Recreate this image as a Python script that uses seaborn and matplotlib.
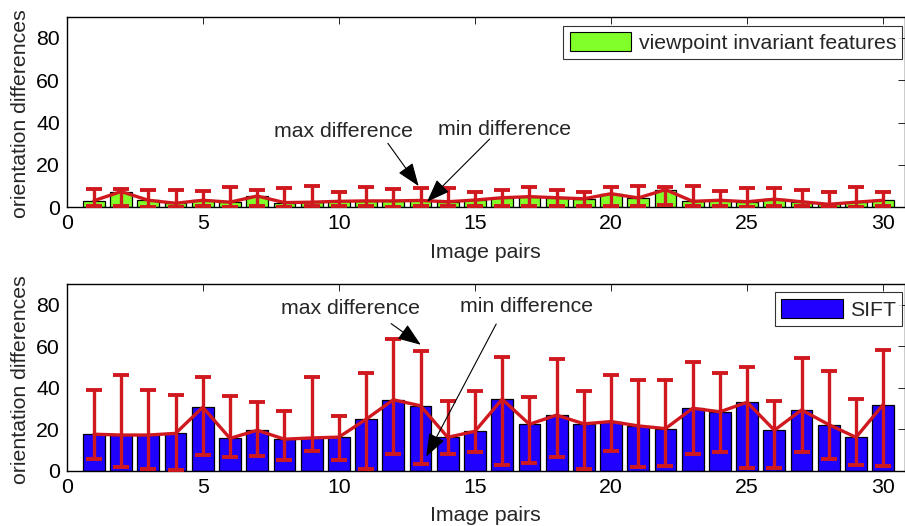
import numpy as np
import pandas as pd
import matplotlib
matplotlib.use("Agg")
import matplotlib.pyplot as plt
from matplotlib.patches import Patch
import seaborn as sns

# ---- data ----
pairs = list(range(1, 31))

vif_mean = [3.1, 7.4, 3.3, 1.9, 3.3, 2.4, 5.3, 2.2, 2.4, 2.8,
            3.0, 3.0, 3.2, 2.6, 3.4, 4.5, 5.0, 4.5, 4.0, 6.4,
            4.4, 8.3, 2.8, 3.3, 2.6, 3.8, 2.6, 1.4, 2.4, 3.3]
vif_max = [8.6, 8.6, 8.2, 8.2, 7.7, 9.7, 8.2, 9.3, 10.2, 7.2,
           9.4, 8.6, 9.0, 9.0, 7.1, 8.2, 9.7, 8.2, 7.4, 9.7,
           10.2, 9.7, 10.2, 7.8, 9.0, 9.0, 8.2, 7.1, 9.7, 7.4]
vif_min = [0.4, 0.6, 0.3, 0.2, 0.5, 0.3, 0.6, 0.3, 0.4, 0.5,
           0.4, 0.3, 0.5, 0.4, 0.6, 0.5, 0.7, 0.4, 0.5, 0.8,
           0.6, 0.9, 0.4, 0.5, 0.3, 0.5, 0.4, 0.2, 0.3, 0.5]

sift_mean = [17.6, 17.2, 17.2, 18.0, 30.6, 15.6, 19.5, 15.2, 15.8, 16.2,
             24.8, 34.2, 31.3, 16.1, 19.0, 34.5, 22.4, 26.8, 22.6, 23.7,
             21.6, 20.3, 30.1, 28.4, 33.0, 19.5, 29.3, 22.2, 16.1, 31.9]
sift_max = [39.1, 46.3, 39.0, 36.7, 45.1, 36.1, 32.9, 28.8, 45.4, 26.6,
            47.0, 63.6, 57.5, 33.7, 38.5, 54.6, 35.7, 53.8, 38.2, 45.9,
            43.8, 43.5, 52.2, 47.3, 50.1, 33.8, 54.3, 48.2, 34.5, 58.3]
sift_min = [5.6, 1.9, 1.0, 0.2, 7.4, 6.8, 7.1, 5.2, 9.4, 5.2,
            0.7, 8.1, 3.2, 8.1, 8.9, 2.8, 3.6, 6.8, 0.8, 9.7,
            1.6, 2.3, 8.1, 9.2, 1.5, 1.5, 9.2, 5.5, 2.6, 2.3]

xticks = [0, 5, 10, 15, 20, 25, 30]
yticks = [0, 20, 40, 60, 80]
labels = ["viewpoint invariant features", "SIFT"]
annot_text = ["max difference", "min difference"]

# ---- style ----
sns.set_style("white")
plt.rcParams["font.family"] = ["Liberation Sans", "DejaVu Sans"]
plt.rcParams["xtick.direction"] = "in"
plt.rcParams["ytick.direction"] = "in"

RED = "#d0191f"
GREEN = "#80ff28"
BLUE = "#2000ff"
FS = 15.3

fig = plt.figure(figsize=(9.05, 5.26), dpi=100)
ax1 = fig.add_axes([0.0737, 0.606, 0.9263, 0.3624])
ax2 = fig.add_axes([0.0737, 0.1051, 0.9263, 0.355])


def panel(ax, mean, lo, hi, color, label, ann, leg_y):
    df = pd.DataFrame({"pair": pairs, "val": mean})
    sns.barplot(data=df, x="pair", y="val", native_scale=True, width=0.8,
                color=color, edgecolor="black", linewidth=0.9,
                saturation=1, errorbar=None, ax=ax, zorder=2)
    m = np.array(mean)
    yerr = [m - np.array(lo), np.array(hi) - m]
    ax.errorbar(pairs, mean, yerr=yerr, fmt="none", ecolor=RED,
                elinewidth=2.4, capsize=6, capthick=2.8, zorder=3)
    sns.lineplot(data=df, x="pair", y="val", color=RED, lw=2.4, ax=ax,
                 zorder=4)
    ax.set_xlim(0, 30.8)
    ax.set_ylim(0, 90)
    ax.set_xticks(xticks)
    ax.set_yticks(yticks)
    ax.tick_params(labelsize=FS, top=True, right=True, length=5,
                   width=0.6, colors="black")
    ax.tick_params(axis="x", pad=5)
    ax.tick_params(axis="y", pad=5)
    ax.set_xlabel("Image pairs", fontsize=FS, labelpad=7)
    ax.set_ylabel("orientation differences", fontsize=FS)
    ax.yaxis.set_label_coords(-0.0435, 0.49)
    for s in ax.spines.values():
        s.set_color("black")
        s.set_linewidth(1.0)
    h = Patch(facecolor=color, edgecolor="black", linewidth=0.8)
    leg = ax.legend([h], [label], loc="upper right",
                    bbox_to_anchor=(0.997, leg_y), fontsize=FS,
                    frameon=True, fancybox=False, handlelength=2.9,
                    handleheight=1.0, borderaxespad=0,
                    borderpad=0.3, handletextpad=0.35)
    leg.get_frame().set_edgecolor("black")
    leg.get_frame().set_linewidth(0.8)
    for (txt, tpos, start, tip) in ann:
        ax.text(tpos[0], tpos[1], txt, fontsize=FS, ha="center",
                va="center", zorder=6)
        ax.annotate("", xy=tip, xytext=start,
                    arrowprops=dict(arrowstyle="-|>,head_length=0.8,head_width=0.3",
                                    color="black", lw=0.8,
                                    mutation_scale=18,
                                    shrinkA=0, shrinkB=0),
                    zorder=6)


panel(ax1, vif_mean, vif_min, vif_max, GREEN, labels[0], [
    (annot_text[0], (10.16, 35.7), (11.8, 30.2), (12.93, 10.0)),
    (annot_text[1], (16.1, 36.5), (15.54, 32.2), (13.24, 2.6)),
], 0.951)
panel(ax2, sift_mean, sift_min, sift_max, BLUE, labels[1], [
    (annot_text[0], (10.42, 78.0), (11.92, 70.9), (13.01, 60.7)),
    (annot_text[1], (16.89, 79.2), (15.78, 70.7), (13.21, 6.8)),
], 0.955)

fig.savefig("out.png", dpi=100)
